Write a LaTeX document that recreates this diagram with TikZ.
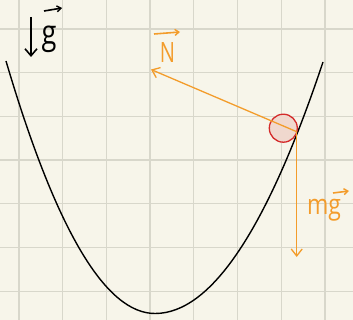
\documentclass[tikz,border=0pt]{standalone}
\usepackage{fontspec}
\setmainfont{Open Sans}
\usetikzlibrary{arrows.meta}
\definecolor{paper}{HTML}{F7F5EA}
\definecolor{gridc}{HTML}{D8D7CB}
\definecolor{force}{HTML}{F39C2B}
\definecolor{ballred}{HTML}{D42A2A}
\definecolor{ballfill}{HTML}{F0D8CE}
\tikzset{
  gridline/.style={gridc, line width=1.3pt},
  curve/.style={black, line width=1.4pt},
  forcevec/.style={force, line width=1.3pt, -{Straight Barb[length=7pt,width=11pt,line width=1.3pt]}},
  overarrow/.style={line width=1.6pt, -{Straight Barb[length=4pt,width=6pt,line width=1.4pt]}},
  labelfont/.style={font=\fontsize{28}{30}\selectfont, inner sep=0pt, anchor=base},
  ball/.style={circle, draw=ballred, fill=ballfill, line width=1.3pt, minimum size=28pt, inner sep=0pt}
}
\begin{document}
\begin{tikzpicture}[x=1pt, y=-1pt]
\fill[paper] (0,0) rectangle (353,320);
\useasboundingbox (0,0) rectangle (353,320);
% grid
\foreach \gx in {19,62.7,106.4,150.1,193.8,237.5,281.2,324.9}
  \draw[gridline] (\gx,0) -- (\gx,320);
\foreach \gy in {29,72.7,116.4,160.1,203.8,247.5,291.2}
  \draw[gridline] (0,\gy) -- (353,\gy);
% track
\coordinate (tl) at (6,61);
\coordinate (tb) at (155,313.5);
\coordinate (tr) at (323,62);
\draw[curve] (tl) .. controls (55.67,229.33) and (105.33,313.5) .. (tb)
             .. controls (211,313.5) and (267,229.67) .. (tr);
% ball
\node[ball] (m) at (283.3,128.2) {};
\coordinate (c) at (296.7,131.7);
\coordinate (ntip) at (151,69.5);
\coordinate (gtip) at (296.7,257);
\draw[forcevec] (c) -- (ntip);
\draw[forcevec] (c) -- (gtip);
% labels
\node[labelfont, force, xscale=0.72] (nl) at (167.5,63) {N};
\draw[force, overarrow] (154,34) -- (180,32);
\node[labelfont, force, xscale=0.82] (mgl) at (324,215) {mg};
\draw[force, overarrow] (333,193) -- (349,191);
% gravity indicator
\draw[black, line width=1.6pt, -{Straight Barb[length=7pt,width=12pt,line width=1.6pt]}] (31,17) -- (31,57);
\node[labelfont, black, font=\fontsize{34}{36}\selectfont, xscale=0.8] (gl) at (49,45) {g};
\draw[black, overarrow] (44,11) -- (62,8);
\end{tikzpicture}
\end{document}
